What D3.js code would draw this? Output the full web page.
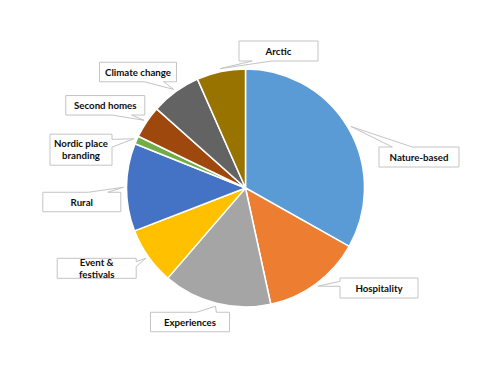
<!DOCTYPE html>
<html>
<head>
<meta charset="utf-8">
<script src="https://cdn.jsdelivr.net/npm/d3@7"></script>
<style>
  body { margin: 0; background: #fff; }
  svg text { font-family: Lato, "Open Sans", sans-serif; font-weight: bold; fill: #0d0d0d; }
</style>
</head>
<body>
<svg id="chart"></svg>
<script>
// data (share of studies, %)
var categories = ["Nature-based", "Hospitality", "Experiences", "Event & festivals",
                  "Rural", "Nordic place branding", "Second homes", "Climate change", "Arctic"];
var values = [33.1, 13.4, 14.7, 7.8, 11.9, 1.1, 4.4, 6.8, 6.6];
var colors = ["#5B9BD5", "#ED7D31", "#A5A5A5", "#FFC000", "#4472C4",
              "#70AD47", "#9E480E", "#636363", "#997300"];
// text lines shown in each callout
var labelLines = [["Nature-based"], ["Hospitality"], ["Experiences"], ["Event &", "festivals"],
                  ["Rural"], ["Nordic place", "branding"], ["Second homes"], ["Climate change"], ["Arctic"]];

// callout boxes were dragged by hand in the original, so keep their layout here
var boxLayout = [
  {cx: 419, cy: 157, w: 80, h: 20},
  {cx: 379, cy: 288, w: 78, h: 20},
  {cx: 190, cy: 322, w: 79, h: 19.5},
  {cx: 96.7, cy: 268.3, w: 79, h: 20},
  {cx: 81.8, cy: 202, w: 78, h: 19.5},
  {cx: 81, cy: 149.7, w: 62, h: 31},
  {cx: 105.3, cy: 105.3, w: 79, h: 19.5},
  {cx: 138, cy: 72, w: 77, h: 19.5},
  {cx: 278.5, cy: 51, w: 79, h: 20}
];

var width = 500, height = 375;
var cx = 245.5, cy = 188, radius = 119;

var svg = d3.select('#chart').attr('width', width).attr('height', height);

var data = categories.map(function (c, i) {
  return {name: c, value: values[i], color: colors[i], lines: labelLines[i], box: boxLayout[i]};
});

var pie = d3.pie().sort(null).value(d => d.value);
var arcs = pie(data);
var arc = d3.arc().innerRadius(0).outerRadius(radius);

var g = svg.append('g').attr('transform', 'translate(' + cx + ',' + cy + ')');

g.selectAll('path')
  .data(arcs)
  .enter()
  .append('path')
  .attr('d', arc)
  .attr('fill', d => d.data.color)
  .attr('stroke', '#fff')
  .attr('stroke-width', 1.5)
  .attr('stroke-linejoin', 'round');

// rectangle callout with a wedge pointing at the slice (like office wedgeRectCallout)
function calloutPath(b, tx, ty) {
  var x0 = b.cx - b.w / 2, y0 = b.cy - b.h / 2, x1 = x0 + b.w, y1 = y0 + b.h;
  var dx = tx - b.cx, dy = ty - b.cy;
  var p = [];
  if (Math.abs(dy) / b.h > Math.abs(dx) / b.w) {
    var a = dx > 0 ? [7, 10] : [2, 5];
    var xa = x0 + b.w * a[0] / 12, xb = x0 + b.w * a[1] / 12;
    if (dy < 0) {
      p = [[x0, y0], [xa, y0], [tx, ty], [xb, y0], [x1, y0], [x1, y1], [x0, y1]];
    } else {
      p = [[x0, y0], [x1, y0], [x1, y1], [xb, y1], [tx, ty], [xa, y1], [x0, y1]];
    }
  } else {
    var s = dy > 0 ? [7, 10] : [2, 5];
    var ya = y0 + b.h * s[0] / 12, yb = y0 + b.h * s[1] / 12;
    if (dx < 0) {
      p = [[x0, y0], [x1, y0], [x1, y1], [x0, y1], [x0, yb], [tx, ty], [x0, ya]];
    } else {
      p = [[x0, y0], [x1, y0], [x1, ya], [tx, ty], [x1, yb], [x1, y1], [x0, y1]];
    }
  }
  return 'M' + p.map(q => q.join(',')).join('L') + 'Z';
}

var tipArc = d3.arc().innerRadius(radius + 3).outerRadius(radius + 3);

var labels = svg.append('g').attr('class', 'labels');

arcs.forEach(function (d) {
  var c = tipArc.centroid(d);
  var tx = cx + c[0], ty = cy + c[1];
  var b = d.data.box;
  labels.append('path')
    .attr('d', calloutPath(b, tx, ty))
    .attr('fill', '#fff')
    .attr('stroke', '#c4c4c4')
    .attr('stroke-width', 1);
  var lines = d.data.lines;
  var lh = 12;
  var t = labels.append('text')
    .attr('text-anchor', 'middle')
    .attr('font-size', 9.7);
  lines.forEach(function (ln, k) {
    t.append('tspan')
      .attr('x', b.cx)
      .attr('y', b.cy + 3.5 + (k - (lines.length - 1) / 2) * lh)
      .text(ln);
  });
});
</script>
</body>
</html>
